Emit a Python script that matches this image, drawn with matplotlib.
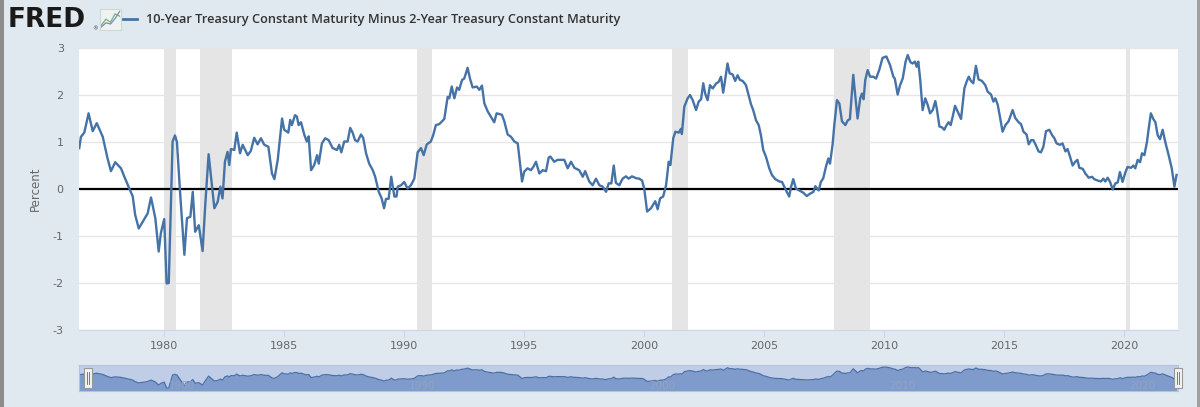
import matplotlib
matplotlib.use('Agg')
import matplotlib.pyplot as plt
from matplotlib.patches import Rectangle

plt.rcParams['axes.unicode_minus'] = False

# 10y - 2y treasury spread (decimal year, percent)
years = [1976.47, 1976.54, 1976.68, 1976.86, 1977.03, 1977.2, 1977.45, 1977.65, 1977.79, 1977.97,
         1978.21, 1978.35, 1978.56, 1978.7, 1978.8, 1978.95, 1979.11, 1979.32, 1979.46, 1979.64,
         1979.78, 1979.87, 1980.01, 1980.11, 1980.2, 1980.36, 1980.46, 1980.54, 1980.67, 1980.85,
         1980.96, 1981.1, 1981.2, 1981.3, 1981.45, 1981.61, 1981.72, 1981.86, 1982.1, 1982.24,
         1982.35, 1982.44, 1982.54, 1982.65, 1982.72, 1982.79, 1982.93, 1983.03, 1983.17, 1983.28,
         1983.49, 1983.62, 1983.76, 1983.9, 1984.04, 1984.18, 1984.35, 1984.5, 1984.6, 1984.74,
         1984.92, 1985.01, 1985.18, 1985.26, 1985.33, 1985.46, 1985.54, 1985.61, 1985.71, 1985.85,
         1985.95, 1986.03, 1986.13, 1986.26, 1986.38, 1986.45, 1986.58, 1986.72, 1986.86, 1987.03,
         1987.21, 1987.3, 1987.39, 1987.51, 1987.65, 1987.76, 1987.86, 1987.96, 1988.07, 1988.21,
         1988.3, 1988.42, 1988.55, 1988.7, 1988.8, 1988.95, 1989.07, 1989.17, 1989.25, 1989.36,
         1989.47, 1989.6, 1989.69, 1989.74, 1989.88, 1990.01, 1990.15, 1990.29, 1990.43, 1990.57,
         1990.71, 1990.82, 1990.95, 1991.12, 1991.22, 1991.33, 1991.47, 1991.68, 1991.82, 1991.89,
         1991.99, 1992.1, 1992.21, 1992.3, 1992.42, 1992.51, 1992.58, 1992.65, 1992.75, 1992.86,
         1993.03, 1993.14, 1993.25, 1993.35, 1993.49, 1993.62, 1993.76, 1993.86, 1994.08, 1994.18,
         1994.32, 1994.46, 1994.6, 1994.74, 1994.92, 1995.01, 1995.15, 1995.29, 1995.39, 1995.5,
         1995.64, 1995.78, 1995.92, 1996.03, 1996.1, 1996.26, 1996.4, 1996.55, 1996.68, 1996.82,
         1996.96, 1997.1, 1997.3, 1997.45, 1997.55, 1997.72, 1997.86, 1998.0, 1998.14, 1998.28,
         1998.42, 1998.53, 1998.64, 1998.74, 1998.83, 1998.97, 1999.11, 1999.25, 1999.36, 1999.5,
         1999.67, 1999.8, 1999.92, 2000.01, 2000.13, 2000.29, 2000.47, 2000.57, 2000.67, 2000.8,
         2000.92, 2001.03, 2001.1, 2001.22, 2001.31, 2001.45, 2001.54, 2001.58, 2001.68, 2001.82,
         2001.92, 2002.03, 2002.17, 2002.28, 2002.38, 2002.47, 2002.55, 2002.65, 2002.75, 2002.86,
         2003.0, 2003.11, 2003.21, 2003.3, 2003.39, 2003.48, 2003.57, 2003.69, 2003.8, 2003.9,
         2004.0, 2004.11, 2004.25, 2004.36, 2004.46, 2004.55, 2004.67, 2004.78, 2004.87, 2004.97,
         2005.08, 2005.22, 2005.33, 2005.47, 2005.64, 2005.75, 2005.92, 2006.05, 2006.13, 2006.22,
         2006.33, 2006.47, 2006.64, 2006.78, 2006.92, 2007.06, 2007.14, 2007.28, 2007.37, 2007.47,
         2007.58, 2007.68, 2007.75, 2007.86, 2007.93, 2008.04, 2008.14, 2008.25, 2008.39, 2008.49,
         2008.58, 2008.72, 2008.8, 2008.9, 2009.01, 2009.08, 2009.15, 2009.22, 2009.32, 2009.42,
         2009.55, 2009.67, 2009.8, 2009.94, 2010.1, 2010.25, 2010.39, 2010.45, 2010.57, 2010.67,
         2010.78, 2010.9, 2010.99, 2011.1, 2011.19, 2011.29, 2011.36, 2011.43, 2011.51, 2011.61,
         2011.72, 2011.82, 2011.92, 2012.03, 2012.14, 2012.21, 2012.31, 2012.42, 2012.51, 2012.61,
         2012.69, 2012.78, 2012.88, 2012.96, 2013.1, 2013.21, 2013.35, 2013.44, 2013.53, 2013.62,
         2013.72, 2013.83, 2013.94, 2014.08, 2014.22, 2014.32, 2014.46, 2014.56, 2014.64, 2014.74,
         2014.83, 2014.94, 2015.06, 2015.19, 2015.36, 2015.47, 2015.61, 2015.71, 2015.81, 2015.94,
         2016.03, 2016.13, 2016.22, 2016.33, 2016.44, 2016.54, 2016.64, 2016.75, 2016.89, 2017.0,
         2017.1, 2017.19, 2017.33, 2017.44, 2017.56, 2017.65, 2017.75, 2017.86, 2017.97, 2018.06,
         2018.14, 2018.28, 2018.39, 2018.53, 2018.67, 2018.76, 2018.9, 2019.04, 2019.14, 2019.22,
         2019.32, 2019.42, 2019.53, 2019.64, 2019.74, 2019.83, 2019.94, 2020.06, 2020.15, 2020.29,
         2020.39, 2020.47, 2020.57, 2020.67, 2020.75, 2020.85, 2020.96, 2021.03, 2021.12, 2021.22,
         2021.31, 2021.4, 2021.5, 2021.61, 2021.72, 2021.86, 2021.99, 2022.1, 2022.19]
spread = [0.87, 1.11, 1.2, 1.61, 1.23, 1.40, 1.11, 0.65, 0.38, 0.57,
          0.44, 0.26, 0.01, -0.16, -0.55, -0.84, -0.7, -0.52, -0.18, -0.62,
          -1.33, -0.94, -0.64, -2.01, -2.0, 1.01, 1.14, 1.0, -0.06, -1.4,
          -0.62, -0.59, -0.06, -0.91, -0.77, -1.32, -0.34, 0.74, -0.41, -0.27,
          0.05, -0.2, 0.58, 0.79, 0.51, 0.85, 0.83, 1.2, 0.76, 0.94,
          0.72, 0.81, 1.09, 0.95, 1.08, 0.94, 0.9, 0.33, 0.21, 0.62,
          1.5, 1.26, 1.2, 1.47, 1.36, 1.57, 1.54, 1.36, 1.42, 1.15,
          1.01, 1.12, 0.4, 0.51, 0.72, 0.54, 0.97, 1.08, 1.04, 0.87,
          0.83, 0.94, 0.78, 1.01, 1.01, 1.3, 1.2, 1.04, 1.01, 1.16,
          1.09, 0.76, 0.54, 0.4, 0.26, -0.06, -0.2, -0.41, -0.21, -0.21,
          0.26, -0.16, -0.16, 0.05, 0.08, 0.15, 0.01, 0.08, 0.22, 0.78,
          0.87, 0.72, 0.95, 1.01, 1.15, 1.36, 1.38, 1.49, 1.96, 1.93,
          2.18, 1.93, 2.16, 2.11, 2.32, 2.35, 2.46, 2.58, 2.35, 2.16,
          2.18, 2.11, 2.2, 1.82, 1.65, 1.54, 1.42, 1.61, 1.58, 1.44,
          1.16, 1.11, 1.01, 0.97, 0.16, 0.37, 0.44, 0.4, 0.47, 0.58,
          0.33, 0.4, 0.38, 0.67, 0.69, 0.58, 0.62, 0.62, 0.62, 0.44,
          0.58, 0.45, 0.4, 0.26, 0.38, 0.16, 0.08, 0.22, 0.08, 0.05,
          -0.06, 0.12, 0.12, 0.5, 0.13, 0.08, 0.22, 0.27, 0.22, 0.27,
          0.23, 0.22, 0.18, 0.01, -0.48, -0.41, -0.26, -0.43, -0.2, -0.16,
          0.08, 0.58, 0.51, 1.08, 1.22, 1.2, 1.28, 1.17, 1.75, 1.93,
          2.0, 1.89, 1.68, 1.86, 1.91, 2.25, 2.03, 1.89, 2.21, 2.14,
          2.24, 2.28, 2.39, 2.05, 2.35, 2.67, 2.46, 2.44, 2.3, 2.42,
          2.32, 2.3, 2.21, 2.0, 1.8, 1.68, 1.46, 1.36, 1.15, 0.83,
          0.69, 0.44, 0.3, 0.21, 0.16, 0.15, -0.03, -0.16, 0.05, 0.21,
          0.01, -0.03, -0.08, -0.15, -0.1, -0.06, 0.06, -0.03, 0.15, 0.23,
          0.47, 0.65, 0.54, 0.95, 1.36, 1.89, 1.82, 1.44, 1.36, 1.46,
          1.49, 2.43, 2.0, 1.5, 1.93, 2.03, 1.91, 2.32, 2.53, 2.39,
          2.39, 2.35, 2.53, 2.79, 2.82, 2.64, 2.39, 2.35, 2.01, 2.21,
          2.35, 2.71, 2.85, 2.7, 2.67, 2.71, 2.6, 2.71, 2.32, 1.68,
          1.93, 1.79, 1.61, 1.68, 1.87, 1.68, 1.33, 1.31, 1.26, 1.36,
          1.42, 1.36, 1.58, 1.77, 1.61, 1.49, 2.14, 2.28, 2.39, 2.3,
          2.25, 2.62, 2.33, 2.3, 2.21, 2.07, 2.01, 1.86, 1.93, 1.79,
          1.54, 1.22, 1.36, 1.44, 1.68, 1.51, 1.42, 1.38, 1.22, 1.16,
          0.95, 1.04, 1.04, 0.93, 0.8, 0.78, 0.9, 1.23, 1.26, 1.15,
          1.08, 0.97, 0.94, 0.97, 0.8, 0.85, 0.69, 0.5, 0.58, 0.62,
          0.45, 0.43, 0.33, 0.24, 0.26, 0.21, 0.18, 0.16, 0.22, 0.16,
          0.24, 0.15, -0.01, 0.12, 0.14, 0.36, 0.15, 0.36, 0.47, 0.45,
          0.5, 0.44, 0.62, 0.57, 0.76, 0.72, 1.01, 1.29, 1.61, 1.49,
          1.42, 1.15, 1.06, 1.26, 1.0, 0.72, 0.44, 0.05, 0.3]

# NBER recessions (start, end)
recessions = [(1980.0, 1980.5), (1981.5, 1982.85), (1990.53, 1991.17),
              (2001.17, 2001.83), (2007.9, 2009.42), (2020.08, 2020.25)]

x_ticks = [1980, 1985, 1990, 1995, 2000, 2005, 2010, 2015, 2020]
y_ticks = [-3, -2, -1, 0, 1, 2, 3]
nav_labels = [1980, 1990, 2000, 2010, 2020]

title = '10-Year Treasury Constant Maturity Minus 2-Year Treasury Constant Maturity'
BLUE = '#4572a7'
BG = '#e1e9f0'
W, H = 1200, 407


def box(x0, y0, x1, y1):
    # pixel rectangle (top-left origin) -> figure fraction
    return [x0 / W, 1 - y1 / H, (x1 - x0) / W, (y1 - y0) / H]


fig = plt.figure(figsize=(12, 4.07), dpi=100)
fig.patch.set_facecolor(BG)

# main chart
ax = fig.add_axes(box(79, 48, 1178, 330))
ax.set_facecolor('white')
for a, b in recessions:
    ax.axvspan(a, b, color='#e5e5e5', lw=0, zorder=0)
for y in y_ticks:
    ax.axhline(y, color='#e6e6e6', lw=1, zorder=0.5)
ax.axhline(0, color='black', lw=1.6, zorder=2)
ax.plot(years, spread, color=BLUE, lw=1.7, zorder=3)
ax.set_xlim(1976.46, 2022.25)
ax.set_ylim(-3, 3)
ax.set_xticks(x_ticks)
ax.set_yticks(y_ticks)
for s in ['top', 'right', 'left']:
    ax.spines[s].set_visible(False)
ax.spines['bottom'].set_color('#ccd6eb')
ax.tick_params(axis='x', colors='#ccd6eb', length=5, labelcolor='#666666', labelsize=8, pad=3)
ax.tick_params(axis='y', length=0, labelcolor='#666666', labelsize=8, pad=11)
ax.set_ylabel('Percent', color='#666666', fontsize=8.5, labelpad=8)

# navigator strip
nav = fig.add_axes(box(79, 365, 1178, 391))
nav.set_facecolor('#bfcde7')
nav.fill_between(years, spread, -3, color='#7f9bcb', lw=0)
nav.plot(years, spread, color='#4a6fa8', lw=0.9)
nav.set_xlim(1976.46, 2022.25)
nav.set_ylim(-2.7, 3.3)
nav.set_xticks([])
nav.set_yticks([])
for s in nav.spines.values():
    s.set_color('#b3c2de')
for yr in nav_labels:
    nav.text(yr + 0.2, -1.6, str(yr), color='#93a3c2', fontsize=7.5, ha='left', va='center')
for hx in [84, 1174]:
    fig.patches.append(Rectangle((hx / W, 1 - 388 / H), 8 / W, 20 / H, transform=fig.transFigure,
                                 facecolor='#f2f2f2', edgecolor='#999999', lw=0.8))
    for dx in [3, 5]:
        fig.lines.append(plt.Line2D([(hx + dx) / W] * 2, [1 - 384 / H, 1 - 372 / H],
                                    transform=fig.transFigure, color='#666666', lw=0.6))

# header: logo, icon, legend entry
fig.text(8 / W, 1 - 20 / H, 'FRED', fontsize=19, fontweight='bold', color='#1a1a1a',
         family='DejaVu Sans', va='center', ha='left')
fig.text(92 / W, 1 - 29 / H, '®', fontsize=4, color='#333333', va='center')
icon = fig.add_axes(box(100, 9, 121, 30))
icon.set_facecolor('#eef2f0')
icon.plot([0, 1, 2, 3, 4], [0.5, 1.5, 1.0, 2.4, 2.0], color='#7fb07a', lw=0.9)
icon.plot([0, 1, 2, 3, 4], [0.2, 0.9, 0.7, 1.6, 2.8], color='#6f8fc0', lw=0.9)
icon.set_xlim(-0.3, 4.3)
icon.set_ylim(-0.3, 3.2)
icon.set_xticks([])
icon.set_yticks([])
for s in icon.spines.values():
    s.set_color('#d0d8d4')
fig.lines.append(plt.Line2D([123 / W, 137 / W], [1 - 19 / H] * 2, transform=fig.transFigure,
                            color=BLUE, lw=2))
fig.text(146 / W, 1 - 19 / H, title, fontsize=9.2, color='#333333', fontweight='semibold',
         family='Open Sans', va='center', ha='left')

# window borders
fig.patches.append(Rectangle((0, 0), 4 / W, 1, transform=fig.transFigure, color='#8c8c8c', lw=0))
fig.patches.append(Rectangle((1 - 3 / W, 0), 3 / W, 1, transform=fig.transFigure, color='#a0a0a0', lw=0))

fig.savefig('out.png', dpi=100, facecolor=BG)
